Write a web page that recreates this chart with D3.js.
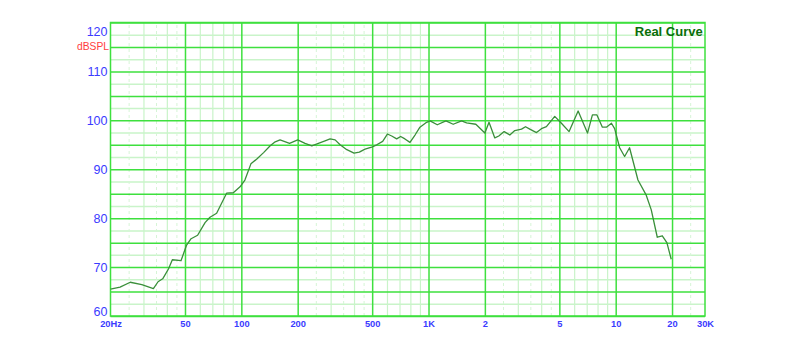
<!DOCTYPE html>
<html>
<head>
<meta charset="utf-8">
<script src="https://cdn.jsdelivr.net/npm/d3@7"></script>
<style>
  body { margin: 0; background: #fff; }
  svg { display: block; }
  .tick-label text { font-family: "Liberation Sans", Arial, sans-serif; fill: #3b3bff; }
  .grid .domain { display: none; }
</style>
</head>
<body>
<div id="chart"></div>
<script>
// Measured response (frequency in Hz, level in dB SPL)
const freqs = [20, 22.5, 25.5, 29.4, 33.9, 35.9, 38, 40.8, 42.8, 47.6, 51, 53.9, 58.4, 64, 68, 73.8,
  83.4, 90.6, 98.4, 104.5, 112.5, 121, 131.5, 142.6, 151.7, 161, 181, 200, 219, 238, 258, 280,
  298, 317, 337, 366, 400, 427, 458, 497, 529, 569, 603, 636, 676, 710, 748, 796, 847, 900, 977,
  1019, 1114, 1239, 1355, 1502, 1597, 1790, 2000, 2105, 2260, 2374, 2535, 2719, 2891, 3140, 3298,
  3476, 3775, 4011, 4265, 4724, 5130, 5637, 6300, 7070, 7510, 7940, 8490, 8920, 9490, 9870,
  10500, 11160, 11860, 13150, 14560, 15490, 16680, 17740, 18770, 19800]
const levels = [65.5, 65.9, 66.9, 66.4, 65.6, 67.0, 67.6, 69.6, 71.5, 71.3, 74.5, 75.8, 76.5, 79.1, 80.2, 81.0,
  85.1, 85.2, 86.4, 87.8, 91.1, 92.1, 93.4, 94.8, 95.6, 96.0, 95.3, 96.0, 95.3, 94.8, 95.3, 95.8,
  96.2, 96.0, 95.0, 94.0, 93.3, 93.5, 94.1, 94.5, 95.0, 95.7, 97.2, 96.8, 96.2, 96.7, 96.2, 95.5, 97.0, 98.6, 99.6,
  99.9, 99.1, 99.9, 99.2, 99.9, 99.5, 99.2, 97.4, 99.6, 96.4, 96.8, 97.7, 97.0, 97.9, 98.2, 98.7,
  98.2, 97.5, 98.3, 98.7, 100.8, 99.4, 97.7, 101.9, 97.4, 101.1, 101.1, 98.6, 98.6, 99.4, 98.3,
  94.4, 92.6, 94.4, 87.8, 84.7, 81.7, 76.1, 76.4, 75.0, 71.6]

// Axis ticks
const yTicks = [60, 70, 80, 90, 100, 110, 120]
const xTicks = [20, 50, 100, 200, 500, 1000, 2000, 5000, 10000, 20000, 30000]
const xTickLabels = ['20Hz', '50', '100', '200', '500', '1K', '2', '5', '10', '20', '30K']
const title = 'Real Curve'
const unitLabel = 'dBSPL'

const data = freqs.map((f, i) => ({ freq: f, db: levels[i] }))

const width = 800
const height = 359
const margin = { top: 22.5, right: 95, bottom: 43, left: 110.5 }
const innerWidth = width - margin.left - margin.right
const innerHeight = height - margin.top - margin.bottom

const svg = d3.select('#chart')
  .append('svg')
  .attr('width', width)
  .attr('height', height)

const g = svg.append('g')
  .attr('transform', `translate(${margin.left}, ${margin.top})`)

const x = d3.scaleLog().domain([20, 30000]).range([0, innerWidth])
const y = d3.scaleLinear().domain([60, 120]).range([innerHeight, 0])

// grid values
const decades = [10, 100, 1000, 10000]
const majorX = [50, 100, 200, 500, 1000, 2000, 5000, 10000, 20000]
const minorX = []
const dashX = []
decades.forEach(d => {
  [3, 4, 6, 7, 8, 9].forEach(m => { if (d * m > 20 && d * m < 30000) minorX.push(d * m) })
  ;[2.5, 3.5, 4.5].forEach(m => { if (d * m > 20 && d * m < 30000) dashX.push(d * m) })
})
const majorY = d3.range(60, 121, 5)
const minorY = d3.range(62.5, 120, 5)

const gridColor = '#3ee03e'
const lightColor = '#c9f4c9'

// helper: draw a set of grid lines with an axis, then drop its texts
const grid = (axis, bottom) => {
  const gg = g.append('g')
    .attr('class', 'grid')
    .attr('transform', bottom ? `translate(0, ${innerHeight})` : null)
    .call(axis)
  gg.selectAll('text').remove()
  return gg.selectAll('line')
}

// light horizontal grid
grid(d3.axisLeft(y).tickValues(minorY).tickSize(-innerWidth), false)
  .attr('stroke', lightColor).attr('stroke-width', 1.5)

// dashed vertical grid
grid(d3.axisBottom(x).tickValues(dashX).tickSize(-innerHeight), true)
  .attr('stroke', '#d6f5d6').attr('stroke-dasharray', '3,3')

// light vertical grid
grid(d3.axisBottom(x).tickValues(minorX).tickSize(-innerHeight), true)
  .attr('stroke', lightColor).attr('stroke-width', 1.2)

// major horizontal grid
grid(d3.axisLeft(y).tickValues(majorY).tickSize(-innerWidth), false)
  .attr('stroke', gridColor).attr('stroke-width', 1.5)

// major vertical grid
grid(d3.axisBottom(x).tickValues(majorX).tickSize(-innerHeight), true)
  .attr('stroke', gridColor).attr('stroke-width', 1.5)

// frame
g.append('rect')
  .attr('width', innerWidth)
  .attr('height', innerHeight)
  .attr('fill', 'none')
  .attr('stroke', gridColor)
  .attr('stroke-width', 1.5)

// left axis labels (end labels nudged inside the frame like the original)
const yAxis = g.append('g')
  .attr('class', 'tick-label')
  .call(d3.axisLeft(y).tickValues(yTicks).tickSize(0).tickPadding(3))
yAxis.select('.domain').remove()
yAxis.selectAll('text')
  .style('font-size', '12.5px')
  .attr('dy', d => d === 120 ? '1.0em' : d === 60 ? '-0.05em' : '0.35em')

svg.append('text')
  .attr('x', 109)
  .attr('y', margin.top + y(115) + 3.5)
  .attr('text-anchor', 'end')
  .attr('font-family', '"Liberation Sans", Arial, sans-serif')
  .attr('font-size', 10.3)
  .attr('fill', '#ff3c3c')
  .text(unitLabel)

// bottom axis labels
const xAxis = g.append('g')
  .attr('class', 'tick-label')
  .attr('transform', `translate(0, ${innerHeight})`)
  .call(d3.axisBottom(x).tickValues(xTicks).tickSize(0).tickPadding(4)
    .tickFormat((d, i) => xTickLabels[i]))
xAxis.select('.domain').remove()
xAxis.selectAll('text')
  .style('font-size', '9.3px')
  .style('font-weight', 'bold')

// the response curve
const line = d3.line()
  .x(d => x(d.freq))
  .y(d => y(d.db))

g.append('path')
  .datum(data)
  .attr('fill', 'none')
  .attr('stroke', '#3a8f3a')
  .attr('stroke-width', 1.3)
  .attr('stroke-linejoin', 'round')
  .attr('d', line)

// title
g.append('text')
  .attr('x', innerWidth - 2.3)
  .attr('y', 13.5)
  .attr('text-anchor', 'end')
  .attr('font-family', '"Liberation Sans", Arial, sans-serif')
  .attr('font-size', 13)
  .attr('font-weight', 'bold')
  .attr('fill', '#0a6e0a')
  .text(title)
</script>
</body>
</html>
